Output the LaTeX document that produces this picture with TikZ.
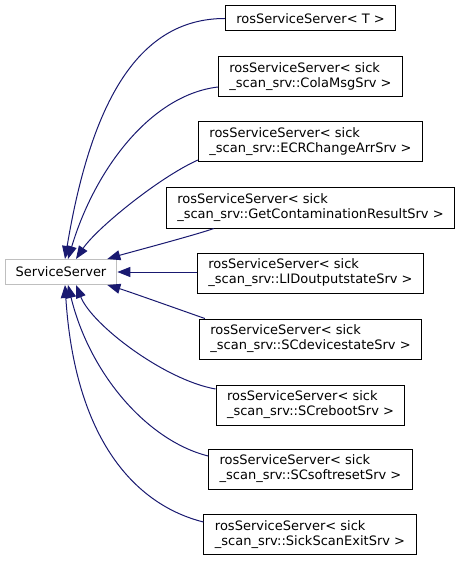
\documentclass[tikz,border=0pt]{standalone}
\usepackage{fontspec}
\setmainfont{DejaVu Sans}
\usepackage{tikz}
\usetikzlibrary{arrows.meta}
\definecolor{edgeblue}{HTML}{191970}
\definecolor{basegray}{HTML}{BFBFBF}
\tikzset{
	cls/.style={draw=black, line width=1pt, fill=white, align=left, inner xsep=11pt,
		inner ysep=2pt, minimum height=40pt, font=\fontsize{13}{15}\selectfont},
	cls1/.style={cls, minimum height=25pt},
	basecls/.style={cls1, draw=basegray, inner xsep=10.5pt},
	inh/.style={draw=edgeblue, line width=1pt, -{Triangle[length=13pt,width=10pt]}},
}

\begin{document}
\begin{tikzpicture}[x=1pt, y=-1pt]
	\useasboundingbox (0,0) rectangle (461,561);
	\node[basecls] at (61.00,272.00) (base) {ServiceServer};
	\node[cls1] at (310.50,18.50) (d1) {rosServiceServer< T >};
	\node[cls] at (310.50,77.00) (d2) {rosServiceServer< sick\\\_scan\_srv::ColaMsgSrv >};
	\node[cls] at (310.50,142.00) (d3) {rosServiceServer< sick\\\_scan\_srv::ECRChangeArrSrv >};
	\node[cls] at (310.50,208.00) (d4) {rosServiceServer< sick\\\_scan\_srv::GetContaminationResultSrv >};
	\node[cls] at (310.50,273.00) (d5) {rosServiceServer< sick\\\_scan\_srv::LIDoutputstateSrv >};
	\node[cls] at (310.50,339.00) (d6) {rosServiceServer< sick\\\_scan\_srv::SCdevicestateSrv >};
	\node[cls] at (310.50,405.00) (d7) {rosServiceServer< sick\\\_scan\_srv::SCrebootSrv >};
	\node[cls] at (310.50,469.00) (d8) {rosServiceServer< sick\\\_scan\_srv::SCsoftresetSrv >};
	\node[cls] at (310.00,534.50) (d9) {rosServiceServer< sick\\\_scan\_srv::SickScanExitSrv >};
	% edges into the top of the base class
	\draw[inh] (d1.west) .. controls +(-90,0) and +(25,-150) .. ([xshift=4pt]base.north);
	\draw[inh] ([yshift=-10pt]d2.west) .. controls +(-67,8) and +(27,-90) .. ([xshift=7pt]base.north);
	\draw[inh] ([yshift=-18pt]d3.west) .. controls +(-40,18) and +(20,-30) .. ([xshift=15pt]base.north);
	\draw[inh] ([xshift=48pt]d4.south west) .. controls +(-20,7) and +(20,-6) .. ([xshift=-10pt]base.north east);
	\draw[inh] (base.east -| d5.west) -- (base.east);
	% edges into the bottom of the base class
	\draw[inh] ([xshift=6pt]d6.north west) .. controls +(-20,-7) and +(20,6) .. ([xshift=-10pt]base.south east);
	\draw[inh] ([yshift=16pt]d7.west) .. controls +(-51,-9) and +(16,40) .. ([xshift=15pt]base.south);
	\draw[inh] ([yshift=13pt]d8.west) .. controls +(-60,-15) and +(22,90) .. ([xshift=7pt]base.south);
	\draw[inh] ([yshift=12.5pt]d9.west) .. controls +(-68,-17) and +(10,155) .. ([xshift=4pt]base.south);
\end{tikzpicture}
\end{document}
